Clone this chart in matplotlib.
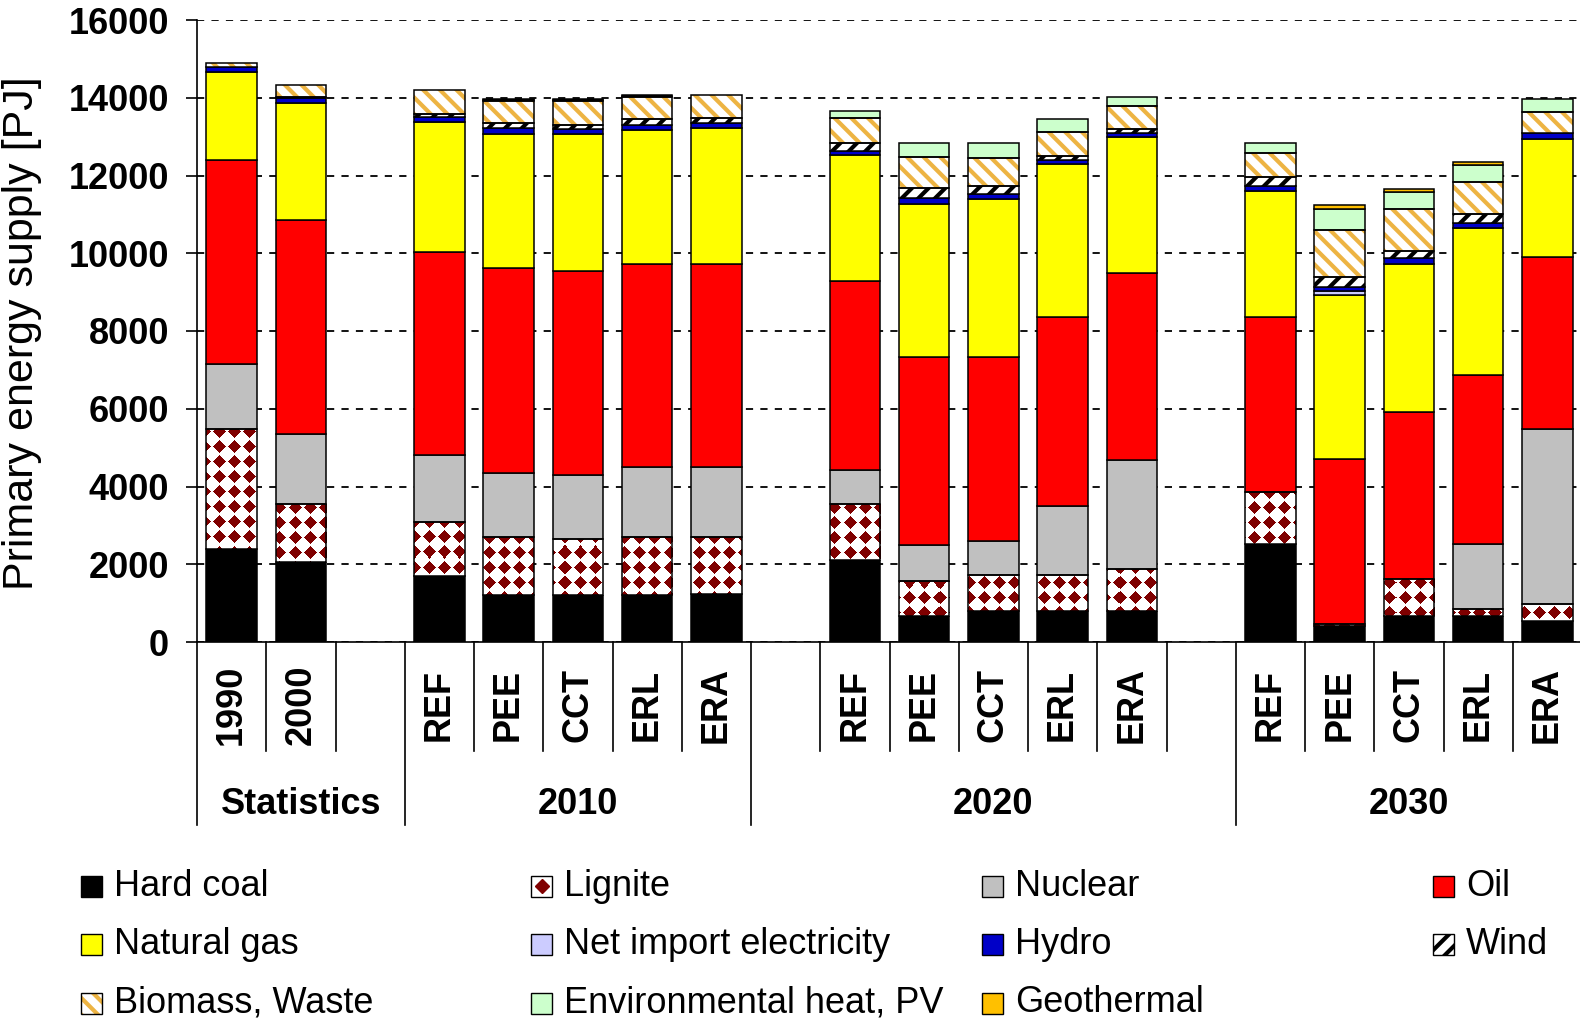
import numpy as np
import matplotlib
matplotlib.use("Agg")
import matplotlib.pyplot as plt
from matplotlib.patches import Rectangle
from matplotlib.lines import Line2D

plt.rcParams['font.family'] = ['Liberation Sans', 'DejaVu Sans']
plt.rcParams['hatch.linewidth'] = 3.0

# Category axis: one slot per bar, '' marks an empty spacer slot
slot_labels = ['1990', '2000', '',
               'REF', 'PEE', 'CCT', 'ERL', 'ERA', '',
               'REF', 'PEE', 'CCT', 'ERL', 'ERA', '',
               'REF', 'PEE', 'CCT', 'ERL', 'ERA']
group_names = ['Statistics', '2010', '2020', '2030']
group_edges = [0, 3, 8, 15, 20]

# Primary energy supply by carrier [PJ], one value per bar (17 bars)
hard_coal   = [2380, 2070, 1690, 1210, 1210, 1210, 1240, 2120, 670, 800, 800, 800, 2530, 400, 670, 670, 550]
lignite     = [3100, 1480, 1400, 1490, 1450, 1490, 1460, 1430, 910, 920, 920, 1070, 1320, 60, 950, 180, 430]
nuclear     = [1670, 1810, 1730, 1640, 1630, 1790, 1810, 880, 920, 880, 1780, 2820, 0, 0, 0, 1680, 4500]
oil         = [5260, 5500, 5200, 5280, 5250, 5240, 5220, 4860, 4840, 4740, 4850, 4800, 4500, 4240, 4300, 4340, 4420]
natural_gas = [2260, 3000, 3350, 3460, 3530, 3440, 3490, 3250, 3930, 4060, 3940, 3490, 3260, 4230, 3800, 3770, 3030]
net_import  = [0, 0, 0, 0, 0, 0, 0, 0, 0, 0, 0, 0, 0, 100, 0, 0, 0]
hydro       = [120, 130, 130, 150, 130, 130, 130, 100, 150, 120, 100, 120, 120, 100, 150, 150, 170]
wind        = [0, 40, 90, 120, 100, 150, 120, 200, 250, 200, 100, 100, 230, 250, 200, 220, 0]
biomass     = [110, 300, 620, 560, 610, 560, 610, 640, 810, 730, 640, 580, 630, 1220, 1070, 830, 530]
env_heat    = [0, 0, 0, 40, 40, 40, 0, 190, 360, 390, 330, 250, 250, 530, 440, 440, 340]
geothermal  = [0, 0, 0, 30, 30, 30, 0, 0, 0, 0, 0, 0, 0, 100, 60, 70, 0]

series_names = ['Hard coal', 'Lignite', 'Nuclear', 'Oil', 'Natural gas',
                'Net import electricity', 'Hydro', 'Wind', 'Biomass, Waste',
                'Environmental heat, PV', 'Geothermal']
series_values = [hard_coal, lignite, nuclear, oil, natural_gas, net_import,
                 hydro, wind, biomass, env_heat, geothermal]

# Drawing style per carrier
styles = {
    'Hard coal':              dict(face='black'),
    'Lignite':                dict(texture=True),
    'Nuclear':                dict(face='#C0C0C0'),
    'Oil':                    dict(face='#FF0000'),
    'Natural gas':            dict(face='#FFFF00'),
    'Net import electricity': dict(face='#CCCCFF'),
    'Hydro':                  dict(face='#0000C8'),
    'Wind':                   dict(hatch='//', hcolor='black'),
    'Biomass, Waste':         dict(hatch='\\\\', hcolor='#EDB443'),
    'Environmental heat, PV': dict(face='#CCFFCC'),
    'Geothermal':             dict(face='#FFC000'),
}

W_PX, H_PX = 1580, 1023
fig = plt.figure(figsize=(W_PX / 100, H_PX / 100), dpi=100)
ax_l, ax_r, ax_t, ax_b = 197, 1582, 20, 642
ax = fig.add_axes([ax_l / W_PX, 1 - ax_b / H_PX, (ax_r - ax_l) / W_PX, (ax_b - ax_t) / H_PX])

# Lignite fill: dark red diamonds on white, built at the axes' pixel size
aw, ah = ax_r - ax_l, ax_b - ax_t
yy, xx = np.mgrid[0:ah, 0:aw]
dx = (xx % 15) - 7
dy = (yy % 15) - 7
diamond = (np.abs(dx) + np.abs(dy)) <= 6
lignite_tex = np.ones((ah, aw, 3))
lignite_tex[diamond] = (0.5, 0.0, 0.0)

bar_w = 0.73
edge_lw = 1.1
bar_slots = [i for i, s in enumerate(slot_labels) if s]

bottoms = np.zeros(len(bar_slots))
for name, vals in zip(series_names, series_values):
    st = styles[name]
    for k, (x, v) in enumerate(zip(bar_slots, vals)):
        if v <= 0:
            continue
        b = bottoms[k]
        if 'texture' in st:
            rect = ax.bar(x, v, bottom=b, width=bar_w, facecolor='none',
                          edgecolor='black', linewidth=edge_lw, zorder=4)[0]
            im = ax.imshow(lignite_tex, extent=(0, 1, 0, 1), transform=ax.transAxes,
                           aspect='auto', interpolation='nearest', zorder=3)
            im.set_clip_path(rect)
        elif 'hatch' in st:
            ax.bar(x, v, bottom=b, width=bar_w, facecolor='white',
                   edgecolor=st['hcolor'], hatch=st['hatch'], linewidth=0, zorder=3)
            ax.bar(x, v, bottom=b, width=bar_w, facecolor='none',
                   edgecolor='black', linewidth=edge_lw, zorder=4)
        else:
            ax.bar(x, v, bottom=b, width=bar_w, facecolor=st['face'],
                   edgecolor='black', linewidth=edge_lw, zorder=3)
    bottoms += np.array(vals, dtype=float)

ax.set_xlim(-0.5, len(slot_labels) - 0.5)
ax.set_ylim(0, 16000)
ax.set_yticks(np.arange(0, 16001, 2000))
ax.set_yticklabels([str(v) for v in range(0, 16001, 2000)],
                   fontsize=26, fontweight='bold')
ax.tick_params(axis='y', length=8, width=1.2, pad=12, direction='out')
ax.set_xticks([])
ax.yaxis.grid(True, linestyle=(0, (4, 4)), color='black', linewidth=1.3)
ax.set_axisbelow(True)
for sp in ('top', 'right'):
    ax.spines[sp].set_visible(False)
for sp in ('left', 'bottom'):
    ax.spines[sp].set_linewidth(1.2)

# Two-level category axis: slot labels, separators and group names
xt = ax.get_xaxis_transform()
short_end = -(751 - ax_b) / (ax_b - ax_t)
long_end = -(825 - ax_b) / (ax_b - ax_t)
for e in range(len(slot_labels) + 1):
    y_end = long_end if e in group_edges else short_end
    ax.plot([e - 0.5, e - 0.5], [0, y_end], transform=xt, color='black',
            linewidth=1.2, clip_on=False)
label_y = -(705 - ax_b) / (ax_b - ax_t)
for i, s in enumerate(slot_labels):
    if s:
        ax.text(i, label_y, s, transform=xt, rotation=90, ha='center', va='center',
                fontsize=26, fontweight='bold')
group_y = -(805 - ax_b) / (ax_b - ax_t)
for g, name in enumerate(group_names):
    c = (group_edges[g] + group_edges[g + 1] - 1) / 2
    ax.text(c, group_y, name, transform=xt, ha='center', va='center',
            fontsize=26, fontweight='bold')

fig.text(22 / W_PX, 1 - 333 / H_PX, 'Primary energy supply [PJ]', rotation=90,
         ha='center', va='center', fontsize=31)

# Legend: 4 columns, filled row by row
col_x = [81, 531, 982, 1433]
row_y = [886, 944, 1003]
sw = 21
for n, name in enumerate(series_names):
    r, c = divmod(n, 4)
    x0 = col_x[c] / W_PX
    y0 = 1 - (row_y[r] + sw / 2) / H_PX
    w, h = sw / W_PX, sw / H_PX
    st = styles[name]
    if 'texture' in st:
        fig.add_artist(Rectangle((x0, y0), w, h, transform=fig.transFigure,
                                 facecolor='white', edgecolor='black', linewidth=1.0))
        fig.add_artist(Line2D([x0 + w / 2], [y0 + h / 2], transform=fig.transFigure,
                              marker='D', markersize=7, color='#800000', linestyle='none'))
    elif 'hatch' in st:
        fig.add_artist(Rectangle((x0, y0), w, h, transform=fig.transFigure,
                                 facecolor='white', edgecolor=st['hcolor'],
                                 hatch=st['hatch'], linewidth=0))
        fig.add_artist(Rectangle((x0, y0), w, h, transform=fig.transFigure,
                                 facecolor='none', edgecolor='black', linewidth=1.0))
    else:
        fig.add_artist(Rectangle((x0, y0), w, h, transform=fig.transFigure,
                                 facecolor=st['face'], edgecolor='black', linewidth=1.0))
    fig.text((col_x[c] + 33) / W_PX, 1 - row_y[r] / H_PX, name,
             ha='left', va='center', fontsize=26)

fig.savefig('out.png', dpi=100)
